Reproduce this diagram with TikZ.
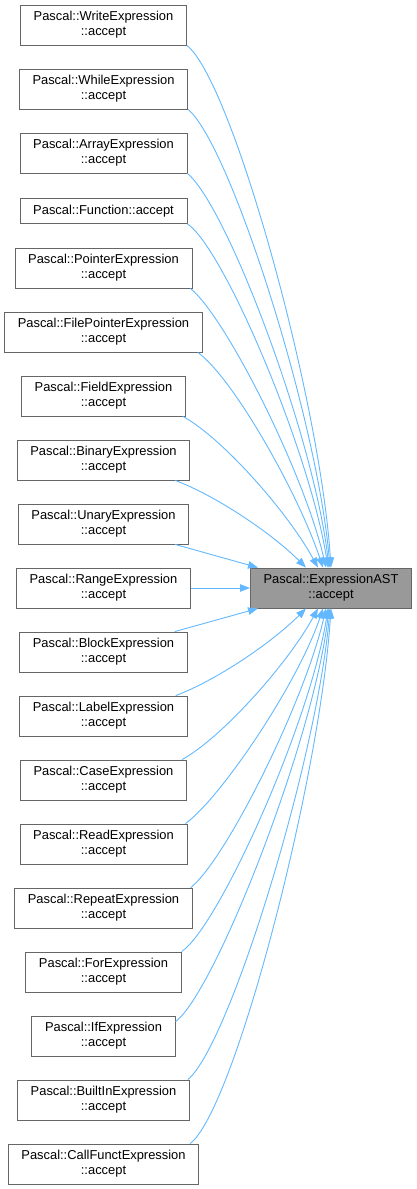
\documentclass[tikz,border=0pt]{standalone}
\usepackage{fontspec}
\setmainfont{Liberation Sans}
\usepackage{xcolor}
\usetikzlibrary{arrows.meta,positioning}
\definecolor{dxEdge}{HTML}{63B8FF}
\definecolor{dxLine}{HTML}{666666}
\definecolor{dxFill}{HTML}{999999}

\tikzset{
  fnbox/.style={draw=dxLine, fill=white, line width=0.8pt, align=center,
    font=\fontsize{12.9}{15.2}\selectfont, inner xsep=13.2pt, inner ysep=6.4pt},
  calledge/.style={draw=dxEdge, line width=0.9pt, -{Triangle[length=10pt,width=7.5pt]}}
}

\begin{document}
\begin{tikzpicture}[x=1pt, y=1pt]
        \useasboundingbox (0,0) rectangle (417,-1189);
        % callers, one column
        \foreach \nm/\yy/\txt in {
            wrt/25/{Pascal::WriteExpression\\::accept},
            whl/89/{Pascal::WhileExpression\\::accept},
            arr/153/{Pascal::ArrayExpression\\::accept},
            fun/211/{Pascal::Function::accept},
            ptr/268/{Pascal::PointerExpression\\::accept},
            fpt/332/{Pascal::FilePointerExpression\\::accept},
            fld/396/{Pascal::FieldExpression\\::accept},
            bin/460/{Pascal::BinaryExpression\\::accept},
            una/524/{Pascal::UnaryExpression\\::accept},
            rng/588/{Pascal::RangeExpression\\::accept},
            blk/652/{Pascal::BlockExpression\\::accept},
            lbl/716/{Pascal::LabelExpression\\::accept},
            cas/780/{Pascal::CaseExpression\\::accept},
            rea/844/{Pascal::ReadExpression\\::accept},
            rep/908/{Pascal::RepeatExpression\\::accept},
            frx/972/{Pascal::ForExpression\\::accept},
            ifx/1036/{Pascal::IfExpression\\::accept},
            bix/1100/{Pascal::BuiltInExpression\\::accept},
            cfx/1164/{Pascal::CallFunctExpression\\::accept}} {
            \node[fnbox] (\nm) at (103.5,-\yy) {\txt};
        }
        \node[fnbox, fill=dxFill] (ast) at (331,-588) {Pascal::ExpressionAST\\::accept};

        % edges from above
        \draw[calledge] (wrt.south east) .. controls +(45,-35) and +(-11,169) .. ([xshift=81pt]ast.north west);
        \draw[calledge] (whl.south east) .. controls +(42,-35) and +(-13,150) .. ([xshift=80pt]ast.north west);
        \draw[calledge] (arr.south east) .. controls +(40,-33) and +(-15,130) .. ([xshift=79pt]ast.north west);
        \draw[calledge] (fun.south east) .. controls +(37,-25) and +(-18,115) .. ([xshift=78pt]ast.north west);
        \draw[calledge] ([xshift=-2pt]ptr.south east) .. controls +(35,-28) and +(-22,95) .. ([xshift=76pt]ast.north west);
        \draw[calledge] ([xshift=-5pt]fpt.south east) .. controls +(35,-25) and +(-25,75) .. ([xshift=73pt]ast.north west);
        \draw[calledge] ([xshift=-3pt]fld.south east) .. controls +(40,-22) and +(-30,55) .. ([xshift=68pt]ast.north west);
        \draw[calledge] ([xshift=-15pt]bin.south east) .. controls +(40,-15) and +(-35,35) .. ([xshift=56pt]ast.north west);
        \draw[calledge] ([xshift=-14pt]una.south east) -- ([xshift=8pt]ast.north west);
        \draw[calledge] (rng.east) -- (ast.west);
        % edges from below
        \draw[calledge] ([xshift=-13pt]blk.north east) -- ([xshift=8pt]ast.south west);
        \draw[calledge] ([xshift=-12pt]lbl.north east) .. controls +(40,15) and +(-35,-35) .. ([xshift=56pt]ast.south west);
        \draw[calledge] ([xshift=-5pt]cas.north east) .. controls +(40,22) and +(-30,-55) .. ([xshift=68pt]ast.south west);
        \draw[calledge] ([xshift=-2pt]rea.north east) .. controls +(35,25) and +(-25,-75) .. ([xshift=73pt]ast.south west);
        \draw[calledge] ([xshift=-2pt]rep.north east) .. controls +(35,28) and +(-22,-95) .. ([xshift=76pt]ast.south west);
        \draw[calledge] (frx.north east) .. controls +(37,25) and +(-18,-115) .. ([xshift=78pt]ast.south west);
        \draw[calledge] ([yshift=-6pt]ifx.north east) .. controls +(40,30) and +(-15,-130) .. ([xshift=79pt]ast.south west);
        \draw[calledge] ([xshift=-2pt]bix.north east) .. controls +(42,35) and +(-13,-150) .. ([xshift=80pt]ast.south west);
        \draw[calledge] ([xshift=-9pt]cfx.north east) .. controls +(45,35) and +(-11,-169) .. ([xshift=81pt]ast.south west);
    \end{tikzpicture}
\end{document}
